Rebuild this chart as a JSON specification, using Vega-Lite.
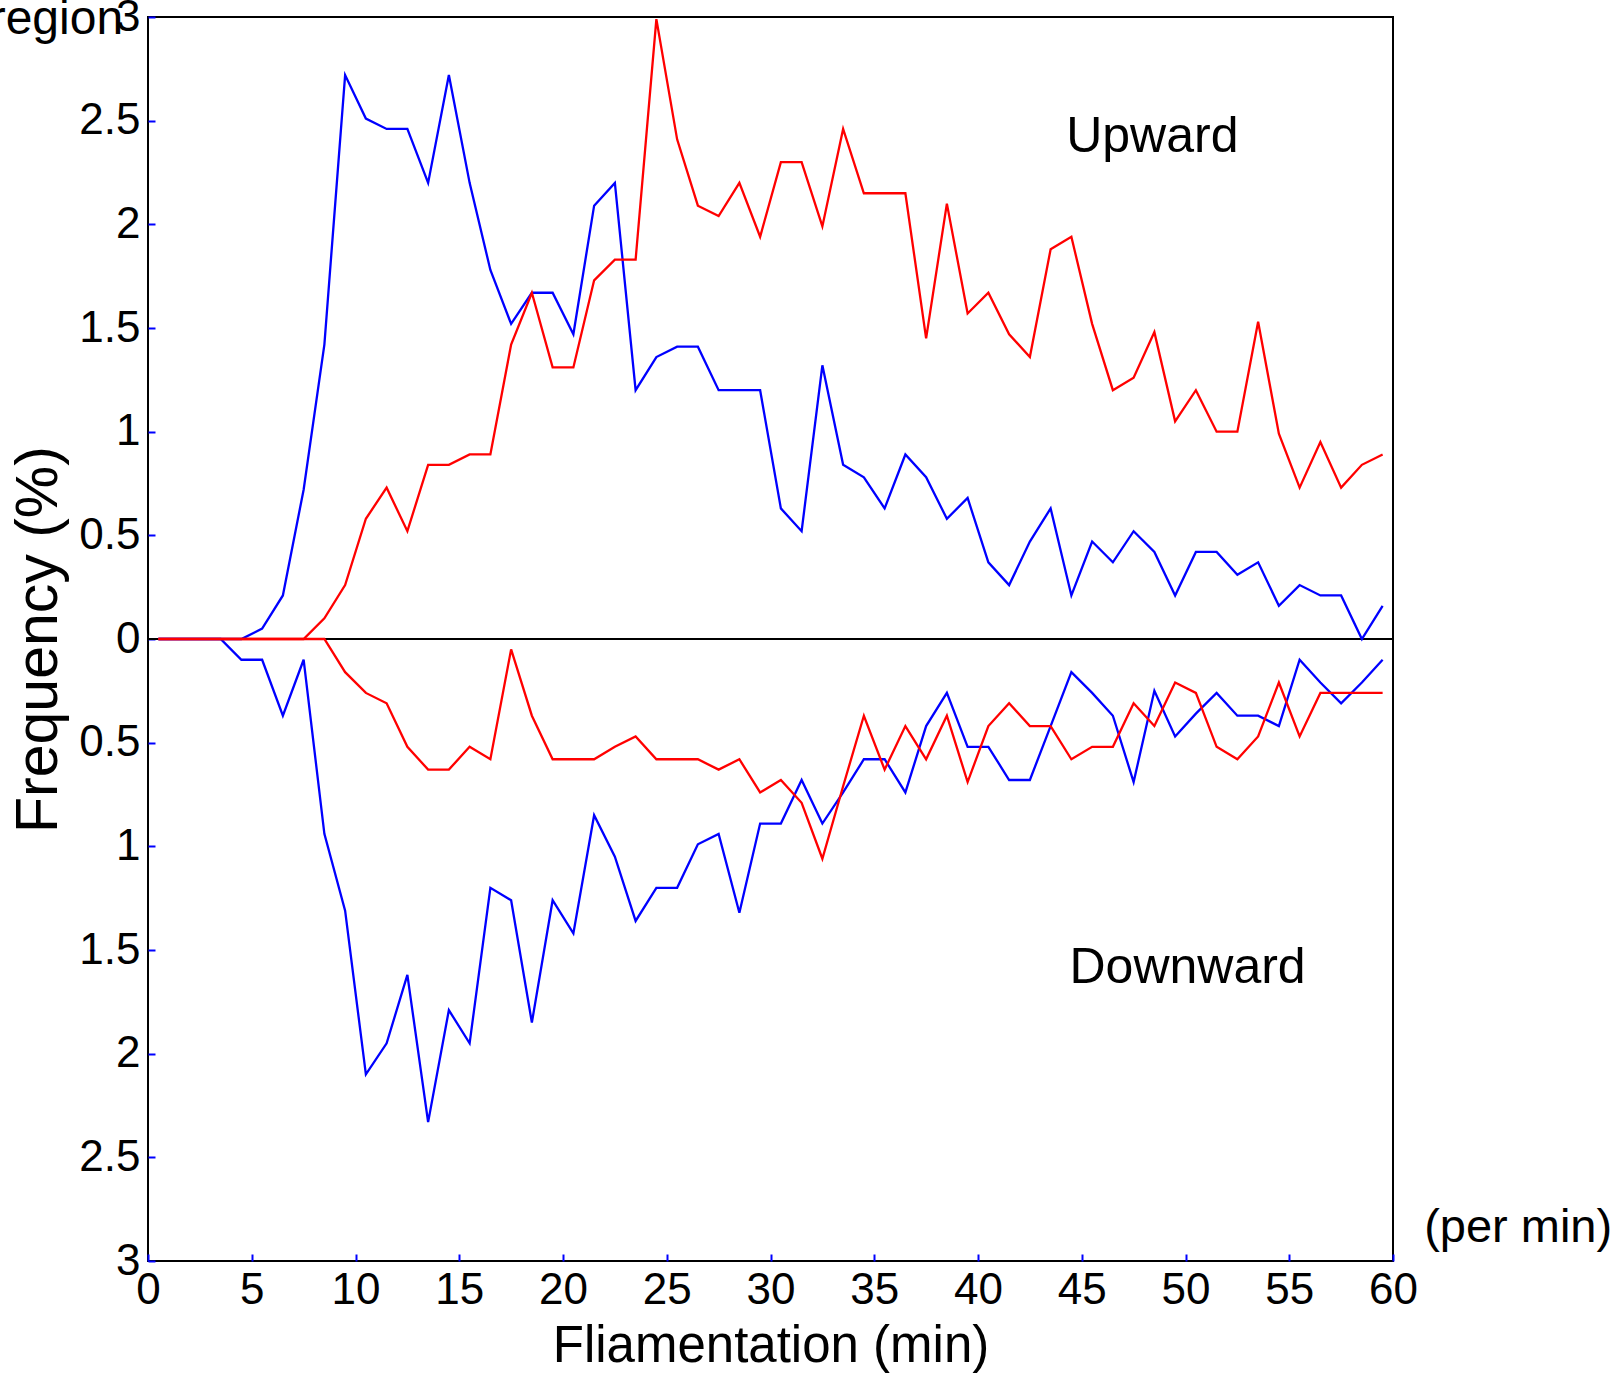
{
  "$schema": "https://vega.github.io/schema/vega-lite/v6.json",
  "width": 1245,
  "height": 1244,
  "autosize": {"type": "none"},
  "padding": {"left": 148, "top": 17, "right": 225, "bottom": 112},
  "background": "white",
  "config": {
    "view": {"stroke": "black", "strokeWidth": 2},
    "font": "Liberation Sans",
    "axis": {"grid": false, "domain": false, "labelFont": "Liberation Sans", "titleFont": "Liberation Sans", "labelColor": "black", "titleColor": "black", "titleFontWeight": "normal", "tickColor": "#0000FF", "tickWidth": 2, "tickSize": -7, "labelFontSize": 44, "labelFlush": false, "labelOverlap": false}
  },
  "data": {"values": [
    {"min":0.5,"ub":0,"ur":0,"db":0,"dr":0},
    {"min":1.5,"ub":0,"ur":0,"db":0,"dr":0},
    {"min":2.5,"ub":0,"ur":0,"db":0,"dr":0},
    {"min":3.5,"ub":0,"ur":0,"db":0,"dr":0},
    {"min":4.5,"ub":0,"ur":0,"db":-0.1,"dr":0},
    {"min":5.5,"ub":0.05,"ur":0,"db":-0.1,"dr":0},
    {"min":6.5,"ub":0.21,"ur":0,"db":-0.37,"dr":0},
    {"min":7.5,"ub":0.72,"ur":0,"db":-0.1,"dr":0},
    {"min":8.5,"ub":1.42,"ur":0.1,"db":-0.94,"dr":0},
    {"min":9.5,"ub":2.72,"ur":0.26,"db":-1.31,"dr":-0.16},
    {"min":10.5,"ub":2.51,"ur":0.58,"db":-2.1,"dr":-0.26},
    {"min":11.5,"ub":2.46,"ur":0.73,"db":-1.95,"dr":-0.31},
    {"min":12.5,"ub":2.46,"ur":0.52,"db":-1.62,"dr":-0.52},
    {"min":13.5,"ub":2.2,"ur":0.84,"db":-2.33,"dr":-0.63},
    {"min":14.5,"ub":2.72,"ur":0.84,"db":-1.79,"dr":-0.63},
    {"min":15.5,"ub":2.2,"ur":0.89,"db":-1.95,"dr":-0.52},
    {"min":16.5,"ub":1.78,"ur":0.89,"db":-1.2,"dr":-0.58},
    {"min":17.5,"ub":1.52,"ur":1.42,"db":-1.26,"dr":-0.05},
    {"min":18.5,"ub":1.67,"ur":1.67,"db":-1.85,"dr":-0.37},
    {"min":19.5,"ub":1.67,"ur":1.31,"db":-1.26,"dr":-0.58},
    {"min":20.5,"ub":1.47,"ur":1.31,"db":-1.42,"dr":-0.58},
    {"min":21.5,"ub":2.09,"ur":1.73,"db":-0.85,"dr":-0.58},
    {"min":22.5,"ub":2.2,"ur":1.83,"db":-1.05,"dr":-0.52},
    {"min":23.5,"ub":1.2,"ur":1.83,"db":-1.36,"dr":-0.47},
    {"min":24.5,"ub":1.36,"ur":2.99,"db":-1.2,"dr":-0.58},
    {"min":25.5,"ub":1.41,"ur":2.41,"db":-1.2,"dr":-0.58},
    {"min":26.5,"ub":1.41,"ur":2.09,"db":-0.99,"dr":-0.58},
    {"min":27.5,"ub":1.2,"ur":2.04,"db":-0.94,"dr":-0.63},
    {"min":28.5,"ub":1.2,"ur":2.2,"db":-1.32,"dr":-0.58},
    {"min":29.5,"ub":1.2,"ur":1.94,"db":-0.89,"dr":-0.74},
    {"min":30.5,"ub":0.63,"ur":2.3,"db":-0.89,"dr":-0.68},
    {"min":31.5,"ub":0.52,"ur":2.3,"db":-0.68,"dr":-0.79},
    {"min":32.5,"ub":1.32,"ur":1.99,"db":-0.89,"dr":-1.06},
    {"min":33.5,"ub":0.84,"ur":2.46,"db":-0.74,"dr":-0.71},
    {"min":34.5,"ub":0.78,"ur":2.15,"db":-0.58,"dr":-0.37},
    {"min":35.5,"ub":0.63,"ur":2.15,"db":-0.58,"dr":-0.63},
    {"min":36.5,"ub":0.89,"ur":2.15,"db":-0.74,"dr":-0.42},
    {"min":37.5,"ub":0.78,"ur":1.45,"db":-0.42,"dr":-0.58},
    {"min":38.5,"ub":0.58,"ur":2.1,"db":-0.26,"dr":-0.37},
    {"min":39.5,"ub":0.68,"ur":1.57,"db":-0.52,"dr":-0.69},
    {"min":40.5,"ub":0.37,"ur":1.67,"db":-0.52,"dr":-0.42},
    {"min":41.5,"ub":0.26,"ur":1.47,"db":-0.68,"dr":-0.31},
    {"min":42.5,"ub":0.47,"ur":1.36,"db":-0.68,"dr":-0.42},
    {"min":43.5,"ub":0.63,"ur":1.88,"db":-0.42,"dr":-0.42},
    {"min":44.5,"ub":0.21,"ur":1.94,"db":-0.16,"dr":-0.58},
    {"min":45.5,"ub":0.47,"ur":1.52,"db":-0.26,"dr":-0.52},
    {"min":46.5,"ub":0.37,"ur":1.2,"db":-0.37,"dr":-0.52},
    {"min":47.5,"ub":0.52,"ur":1.26,"db":-0.69,"dr":-0.31},
    {"min":48.5,"ub":0.42,"ur":1.48,"db":-0.25,"dr":-0.42},
    {"min":49.5,"ub":0.21,"ur":1.05,"db":-0.47,"dr":-0.21},
    {"min":50.5,"ub":0.42,"ur":1.2,"db":-0.36,"dr":-0.26},
    {"min":51.5,"ub":0.42,"ur":1.0,"db":-0.26,"dr":-0.52},
    {"min":52.5,"ub":0.31,"ur":1.0,"db":-0.37,"dr":-0.58},
    {"min":53.5,"ub":0.37,"ur":1.53,"db":-0.37,"dr":-0.47},
    {"min":54.5,"ub":0.16,"ur":0.99,"db":-0.42,"dr":-0.21},
    {"min":55.5,"ub":0.26,"ur":0.73,"db":-0.1,"dr":-0.47},
    {"min":56.5,"ub":0.21,"ur":0.95,"db":-0.21,"dr":-0.26},
    {"min":57.5,"ub":0.21,"ur":0.73,"db":-0.31,"dr":-0.26},
    {"min":58.5,"ub":0,"ur":0.84,"db":-0.21,"dr":-0.26},
    {"min":59.5,"ub":0.16,"ur":0.89,"db":-0.1,"dr":-0.26}
  ]},
  "transform": [{"fold": ["ub", "db", "ur", "dr"], "as": ["series", "freq"]}],
  "encoding": {
    "x": {"field": "min", "type": "quantitative", "scale": {"domain": [0, 60], "nice": false, "zero": false},
      "axis": {"values": [0,5,10,15,20,25,30,35,40,45,50,55,60], "title": "Fliamentation (min)", "titleFontSize": 51, "labelPadding": 14, "titlePadding": 9}},
    "y": {"field": "freq", "type": "quantitative", "scale": {"domain": [-3, 3], "nice": false},
      "axis": {"values": [-3,-2.5,-2,-1.5,-1,-0.5,0,0.5,1,1.5,2,2.5,3], "labelExpr": "'' + abs(datum.value)", "title": "Frequency (%)", "titleFontSize": 59, "labelPadding": 15, "titlePadding": 10}}
  },
  "layer": [
    {"transform": [{"filter": "datum.series === 'ub' && datum.min === 0.5"}],
     "mark": {"type": "rule", "color": "black", "strokeWidth": 2}, "encoding": {"y": {"datum": 0}, "x": {"datum": 0}, "x2": {"datum": 60}}},
    {"transform": [{"filter": "datum.series === 'ub' || datum.series === 'db'"}],
     "mark": {"type": "line", "color": "#0000FF", "strokeWidth": 2.3},
     "encoding": {"detail": {"field": "series"}}},
    {"transform": [{"filter": "datum.series === 'ur' || datum.series === 'dr'"}],
     "mark": {"type": "line", "color": "#FF0000", "strokeWidth": 2.3},
     "encoding": {"detail": {"field": "series"}}},
    {"transform": [{"filter": "datum.series === 'ub' && datum.min === 0.5"}],
     "mark": {"type": "text", "fontSize": 50, "align": "center", "baseline": "middle", "color": "black"},
     "encoding": {"x": {"datum": 48.4}, "y": {"datum": 2.42}, "text": {"value": "Upward"}}},
    {"transform": [{"filter": "datum.series === 'ub' && datum.min === 0.5"}],
     "mark": {"type": "text", "fontSize": 50, "align": "center", "baseline": "middle", "color": "black"},
     "encoding": {"x": {"datum": 50.1}, "y": {"datum": -1.585}, "text": {"value": "Downward"}}},
    {"transform": [{"filter": "datum.series === 'ub' && datum.min === 0.5"}],
     "mark": {"type": "text", "fontSize": 47, "align": "left", "baseline": "middle", "color": "black"},
     "encoding": {"x": {"datum": 61.5}, "y": {"datum": -2.84}, "text": {"value": "(per min)"}}},
    {"transform": [{"filter": "datum.series === 'ub' && datum.min === 0.5"}],
     "mark": {"type": "text", "fontSize": 48, "align": "right", "baseline": "middle", "color": "black"},
     "encoding": {"x": {"datum": -1.2}, "y": {"datum": 2.985}, "text": {"value": "region"}}}
  ]
}
